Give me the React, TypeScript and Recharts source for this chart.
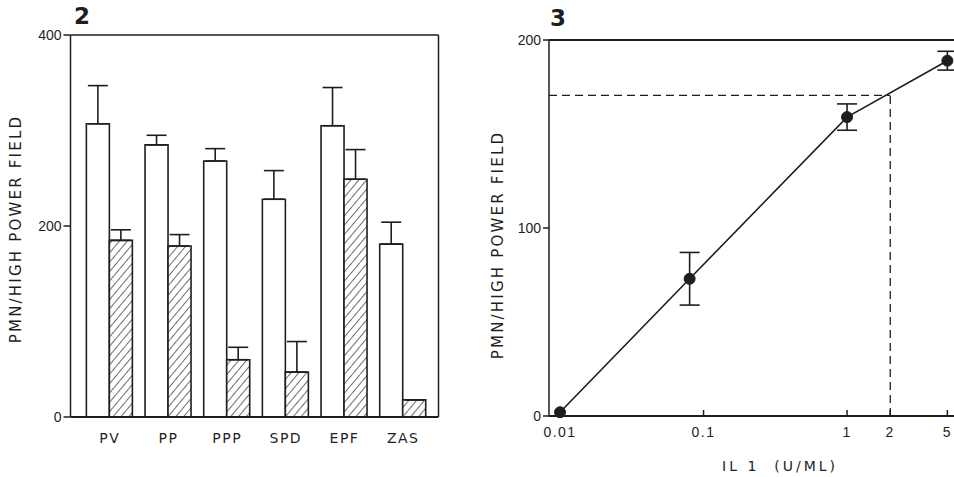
import React from "react";
import {
  ComposedChart,
  Bar,
  Line,
  XAxis,
  YAxis,
  ErrorBar,
  ReferenceLine,
} from "recharts";

/* ── data: figure 2 (bars) ───────────────────────────────────── */
const groups = ["PV", "PP", "PPP", "SPD", "EPF", "ZAS"];
const openVals = [307, 285, 268, 228, 305, 181];
const openErr = [40, 10, 13, 30, 40, 23];
const hatchVals = [185, 179, 60, 47, 249, 18];
const hatchErr = [11, 12, 13, 32, 31, 0];
const barTicks = [0, 200, 400];

/* ── data: figure 3 (IL1 dose response) ──────────────────────── */
const doses = [0.01, 0.08, 1, 5];
const pmn = [2, 73, 159, 189];
const pmnErr = [0, 14, 7, 5];
const doseTicks = [0.01, 0.1, 1, 2, 5];
const lineTicks = [0, 100, 200];
const doseDomain = [0.00838, 7.19];
const halfDose = 2;
const halfPmn = 170.5;

const INK = "#1e1e1e";
const FONT = "'DejaVu Sans', sans-serif";
const NUM_FONT = "'Liberation Sans', Arial, sans-serif";

const barData = groups.map((name, i) => ({
  name,
  open: openVals[i],
  openE: [0, openErr[i]],
  hatch: hatchVals[i],
  hatchE: [0, hatchErr[i]],
}));

const lineData = doses.map((d, i) => ({ dose: d, pmn: pmn[i], err: pmnErr[i] }));

function DoseTick({ x, y, payload }: any) {
  return (
    <g>
      <line x1={x} x2={x} y1={y} y2={y - 6} stroke={INK} strokeWidth={1.5} />
      <text x={x} y={y + 21} textAnchor="middle" fill={INK} fontSize={14} fontFamily={NUM_FONT} letterSpacing={1.5}>
        {String(payload.value)}
      </text>
    </g>
  );
}

const vTitle = (left: number, top: number): React.CSSProperties => ({
  position: "absolute",
  left,
  top,
  transform: "translate(-50%, -50%) rotate(-90deg)",
  whiteSpace: "nowrap",
  fontFamily: FONT,
  fontSize: 15,
  letterSpacing: 2.2,
  color: INK,
});

export default function App() {
  return (
    <div style={{ position: "absolute", left: 0, top: 0, width: 954, height: 477, overflow: "hidden", background: "#fff" }}>
      {/* ── figure 2 ── */}
      <div style={{ position: "absolute", left: 0, top: 0 }}>
        <ComposedChart width={470} height={477} data={barData} margin={{ top: 35, right: 30.5, bottom: 30, left: 10 }} barCategoryGap="10%" barGap={0}>
          <defs>
            <pattern id="hatch" width={6} height={6} patternUnits="userSpaceOnUse" patternTransform="rotate(40)">
              <rect width={6} height={6} fill="#fff" />
              <line x1={0} y1={0} x2={0} y2={6} stroke={INK} strokeWidth={1.3} />
            </pattern>
          </defs>
          <XAxis
            dataKey="name"
            padding={{ left: 10, right: 6 }}
            height={30}
            tickLine={false}
            axisLine={{ stroke: INK, strokeWidth: 2 }}
            tick={{ fill: INK, fontSize: 14, fontFamily: FONT, letterSpacing: 1.5 }}
            tickMargin={10}
          />
          <YAxis
            domain={[0, 400]}
            ticks={barTicks}
            width={60.5}
            axisLine={{ stroke: INK, strokeWidth: 1.5 }}
            tickLine={{ stroke: INK, strokeWidth: 1.5 }}
            tickSize={7}
            tickMargin={2}
            tick={{ fill: INK, fontSize: 14, fontFamily: NUM_FONT }}
          />
          <YAxis
            yAxisId="r"
            orientation="right"
            domain={[0, 400]}
            width={1}
            tick={false}
            tickLine={false}
            axisLine={{ stroke: INK, strokeWidth: 1.5 }}
          />
          <ReferenceLine y={400} stroke={INK} strokeWidth={1.5} />
          <Bar dataKey="open" fill="#fff" stroke={INK} strokeWidth={1.6} isAnimationActive={false}>
            <ErrorBar dataKey="openE" width={10} stroke={INK} strokeWidth={1.6} direction="y" />
          </Bar>
          <Bar dataKey="hatch" yAxisId="r" fill="url(#hatch)" stroke={INK} strokeWidth={1.6} isAnimationActive={false}>
            <ErrorBar dataKey="hatchE" width={10} stroke={INK} strokeWidth={1.6} direction="y" />
          </Bar>
        </ComposedChart>
      </div>

      {/* ── figure 3 ── */}
      <div style={{ position: "absolute", left: 480, top: 0 }}>
        <ComposedChart width={500} height={477} data={lineData} margin={{ top: 40, right: 10, bottom: 31, left: 9 }}>
          <XAxis
            dataKey="dose"
            type="number"
            scale="log"
            domain={doseDomain}
            allowDataOverflow
            ticks={doseTicks}
            height={30}
            tickSize={0}
            tickMargin={0}
            tickLine={false}
            axisLine={{ stroke: INK, strokeWidth: 2 }}
            tick={<DoseTick />}
          />
          <YAxis
            domain={[0, 200]}
            ticks={lineTicks}
            width={60}
            axisLine={{ stroke: INK, strokeWidth: 1.5 }}
            tickLine={{ stroke: INK, strokeWidth: 1.5 }}
            tickSize={6}
            tickMargin={2}
            tick={{ fill: INK, fontSize: 14, fontFamily: NUM_FONT }}
          />
          <ReferenceLine y={200} stroke={INK} strokeWidth={2} />
          <ReferenceLine
            segment={[{ x: doseDomain[0], y: halfPmn }, { x: halfDose, y: halfPmn }]}
            stroke={INK}
            strokeWidth={1.3}
            strokeDasharray="8 5"
          />
          <ReferenceLine
            segment={[{ x: halfDose, y: 0 }, { x: halfDose, y: halfPmn }]}
            stroke={INK}
            strokeWidth={1.3}
            strokeDasharray="8 5"
          />
          <Line
            dataKey="pmn"
            type="linear"
            stroke={INK}
            strokeWidth={1.6}
            dot={{ r: 5.5, fill: INK, stroke: INK, strokeWidth: 1 }}
            isAnimationActive={false}
          >
            <ErrorBar dataKey="err" width={10} stroke={INK} strokeWidth={1.6} direction="y" />
          </Line>
        </ComposedChart>
      </div>

      {/* titles */}
      <div style={{ position: "absolute", left: 74, top: 3, fontFamily: FONT, fontWeight: "bold", fontSize: 23, color: INK }}>2</div>
      <div style={{ position: "absolute", left: 550, top: 5, fontFamily: FONT, fontWeight: "bold", fontSize: 23, color: INK }}>3</div>
      <div style={vTitle(16, 229)}>PMN/HIGH POWER FIELD</div>
      <div style={vTitle(498, 245)}>PMN/HIGH POWER FIELD</div>
      <div
        style={{
          position: "absolute",
          left: 780,
          top: 466,
          transform: "translate(-50%, -50%)",
          whiteSpace: "pre",
          fontFamily: FONT,
          fontSize: 14,
          letterSpacing: 3,
          color: INK,
        }}
      >
        {"IL 1  (U/ML)"}
      </div>
    </div>
  );
}
